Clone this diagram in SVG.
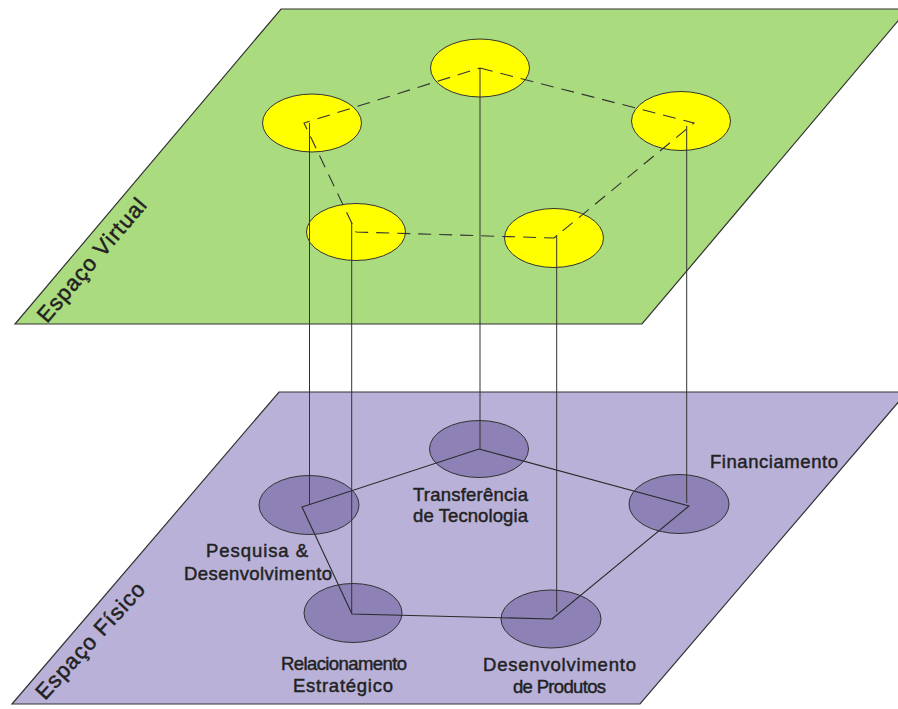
<svg xmlns="http://www.w3.org/2000/svg" width="898" height="709" viewBox="0 0 898 709">
  <style>
    .plane { stroke: #333333; stroke-width: 1.2; }
    .virtual { fill: #aadb7e; }
    .physical { fill: #b9b1d7; }
    .vnode { fill: #ffff00; stroke: #333333; stroke-width: 1; }
    .pnode { fill: #8e81b6; stroke: #333333; stroke-width: 1; }
    .dash { fill: none; stroke: #333333; stroke-width: 1.1; stroke-dasharray: 13 8; }
    .ring { fill: none; stroke: #2a2a2a; stroke-width: 1.1; }
    .link { fill: none; stroke: #333333; stroke-width: 1; }
    text { font-family: "Liberation Sans", Arial, sans-serif; fill: #222222; stroke: #222222; stroke-width: 0.45; }
    .lbl { font-size: 18.5px; }
    .lblc { font-size: 18.5px; text-anchor: middle; }
    .plane-lbl { font-size: 22px; stroke-width: 0.5; }
  </style>

  <!-- upper plane: virtual space -->
  <g id="espaco-virtual">
    <polygon class="plane virtual" points="281,9 908,9 642,324 15,324"/>
    <text class="plane-lbl" transform="translate(47,324) rotate(-49.5)" textLength="155" lengthAdjust="spacing">Espaço Virtual</text>
  </g>

  <!-- lower plane: physical space -->
  <g id="espaco-fisico">
    <polygon class="plane physical" points="279,392 907,392 640,704 12,704"/>
    <text class="plane-lbl" transform="translate(45,701) rotate(-47.5)" textLength="150" lengthAdjust="spacing">Espaço Físico</text>
  </g>

  <!-- virtual nodes -->
  <g id="v-transferencia"><ellipse class="vnode" cx="480" cy="68" rx="49.5" ry="29"/></g>
  <g id="v-pesquisa"><ellipse class="vnode" cx="312" cy="123" rx="49.5" ry="29"/></g>
  <g id="v-financiamento"><ellipse class="vnode" cx="681" cy="121" rx="49.5" ry="29.5"/></g>
  <g id="v-relacionamento"><ellipse class="vnode" cx="356" cy="232" rx="49.5" ry="28.5"/></g>
  <g id="v-produtos"><ellipse class="vnode" cx="554" cy="238" rx="49.5" ry="29.5"/></g>

  <!-- physical nodes -->
  <g id="transferencia">
    <ellipse class="pnode" cx="479" cy="449" rx="49.5" ry="28.5"/>
    <text class="lblc" x="470.5" y="501" textLength="115" lengthAdjust="spacing">Transferência</text>
    <text class="lblc" x="470.5" y="522" textLength="115" lengthAdjust="spacing">de Tecnologia</text>
  </g>
  <g id="pesquisa">
    <ellipse class="pnode" cx="309" cy="505" rx="50" ry="29.5"/>
    <text class="lblc" x="257" y="557" textLength="102" lengthAdjust="spacing">Pesquisa &amp;</text>
    <text class="lblc" x="258" y="579.5" textLength="148" lengthAdjust="spacing">Desenvolvimento</text>
  </g>
  <g id="financiamento">
    <ellipse class="pnode" cx="679" cy="504" rx="50" ry="29.5"/>
    <text class="lbl" x="710" y="468" textLength="128" lengthAdjust="spacing">Financiamento</text>
  </g>
  <g id="relacionamento">
    <ellipse class="pnode" cx="353" cy="613" rx="49" ry="29.5"/>
    <text class="lblc" x="344" y="670" textLength="126" lengthAdjust="spacing">Relacionamento</text>
    <text class="lblc" x="343" y="692" textLength="100" lengthAdjust="spacing">Estratégico</text>
  </g>
  <g id="produtos">
    <ellipse class="pnode" cx="551" cy="619" rx="50" ry="29"/>
    <text class="lblc" x="559.5" y="671" textLength="153" lengthAdjust="spacing">Desenvolvimento</text>
    <text class="lblc" x="559.5" y="693" textLength="93" lengthAdjust="spacing">de Produtos</text>
  </g>

  <!-- connectors -->
  <g id="connectors">
    <!-- dashed ring in virtual space -->
    <polygon class="dash" points="480,68 694,123 554,238 356,232 304,123"/>
    <!-- solid ring in physical space -->
    <polygon class="ring" points="479,449 689,506 552,619 352,614 302,507"/>
    <!-- vertical links between the planes -->
    <line class="link" x1="309.5" y1="123" x2="309.5" y2="504"/>
    <line class="link" x1="351.7" y1="223" x2="351.7" y2="614"/>
    <line class="link" x1="480" y1="68" x2="480" y2="449"/>
    <line class="link" x1="556.7" y1="235" x2="556.7" y2="612"/>
    <line class="link" x1="686.7" y1="126" x2="686.7" y2="503"/>
  </g>
</svg>
